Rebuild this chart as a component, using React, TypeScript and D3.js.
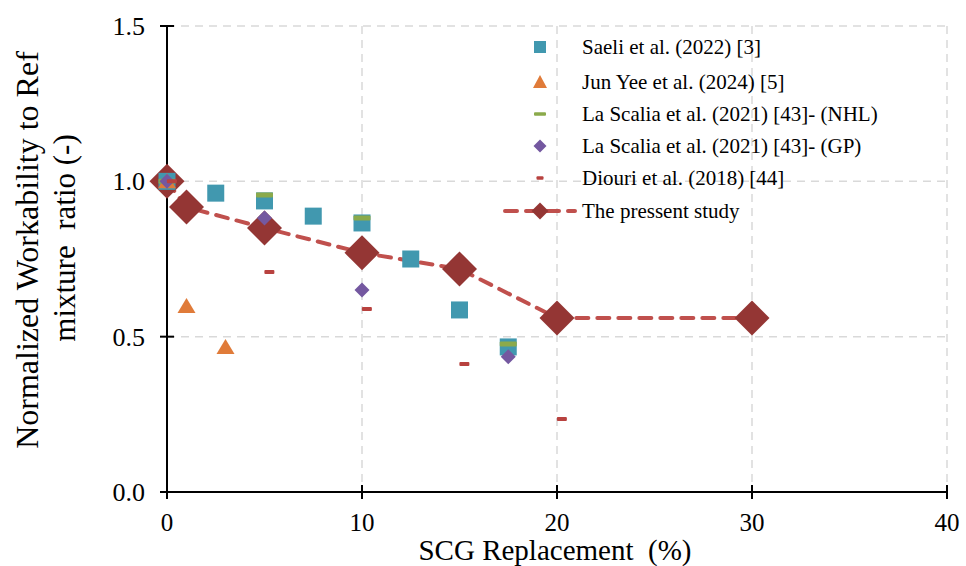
import React from "react";
import * as d3 from "d3";

const saeliX = [0, 2.5, 5, 7.5, 10, 12.5, 15, 17.5];
const saeliY = [1.0, 0.962, 0.937, 0.888, 0.866, 0.75, 0.586, 0.467];
const junYeeX = [0, 1, 3];
const junYeeY = [1.0, 0.599, 0.467];
const nhlX = [0, 5, 10, 17.5];
const nhlY = [1.0, 0.956, 0.882, 0.476];
const gpX = [0, 5, 10, 17.5];
const gpY = [1.0, 0.882, 0.65, 0.435];
const diouriX = [0.25, 5.25, 10.25, 15.25, 20.25];
const diouriY = [1.0, 0.708, 0.589, 0.412, 0.235];
const studyX = [0, 1, 5, 10, 15, 20, 30];
const studyY = [1.0, 0.917, 0.85, 0.77, 0.718, 0.56, 0.56];
const xTicks = [0, 10, 20, 30, 40];
const yTicks = [0, 0.5, 1.0, 1.5];
const legendLabels = [
  "Saeli et al. (2022) [3]",
  "Jun Yee et al. (2024) [5]",
  "La Scalia et al. (2021) [43]- (NHL)",
  "La Scalia et al. (2021) [43]- (GP)",
  "Diouri et al. (2018) [44]",
  "The pressent study",
];

const C_SQ = "#4198AF";
const C_TRI = "#E07B39";
const C_NHL = "#8BAA4B";
const C_GP = "#7458A0";
const C_DI = "#B8423F";
const C_ST = "#943634";
const C_LINE = "#C0504D";
const FONT = "'Liberation Serif', 'Times New Roman', serif";

export default function App() {
  const x = d3.scaleLinear().domain([0, 40]).range([167, 947]);
  const y = d3.scaleLinear().domain([0, 1.5]).range([492, 26]);
  const line = d3
    .line<number>()
    .x((_, i) => x(studyX[i]))
    .y((d) => y(d));

  const square = (cx: number, cy: number, s: number, key: any) => (
    <rect key={key} x={cx - s / 2} y={cy - s / 2} width={s} height={s} fill={C_SQ} />
  );
  const tri = (cx: number, cy: number, key: any) => (
    <path key={key} d={`M${cx},${cy - 8} L${cx + 9},${cy + 7} L${cx - 9},${cy + 7} Z`} fill={C_TRI} />
  );
  const diamond = (cx: number, cy: number, r: number, fill: string, key: any) => (
    <path key={key} d={`M${cx},${cy - r} L${cx + r},${cy} L${cx},${cy + r} L${cx - r},${cy} Z`} fill={fill} />
  );
  const dash = (cx: number, cy: number, w: number, h: number, fill: string, key: any) => (
    <rect key={key} x={cx - w / 2} y={cy - h / 2} width={w} height={h} rx={1} fill={fill} />
  );

  const legendY = [47, 82, 114, 146, 178, 211];
  const lx = 540;

  return (
    <svg width={966} height={566} style={{ display: "block", position: "absolute", left: 0, top: 0 }}>
      <rect width={966} height={566} fill="#fff" />
      {/* grid */}
      {xTicks.slice(1).map((t) => (
        <line key={"gx" + t} x1={x(t)} x2={x(t)} y1={y(1.5)} y2={y(0)} stroke="#D9D9D9" strokeWidth={1.5} strokeDasharray="8,6" />
      ))}
      {yTicks.slice(1).map((t) => (
        <line key={"gy" + t} x1={x(0)} x2={x(40)} y1={y(t)} y2={y(t)} stroke="#D9D9D9" strokeWidth={1.5} strokeDasharray="8,6" />
      ))}
      {/* axes */}
      <line x1={x(0)} x2={x(0)} y1={y(1.5)} y2={y(0)} stroke="#000" strokeWidth={2} />
      <line x1={x(0)} x2={x(40)} y1={y(0)} y2={y(0)} stroke="#000" strokeWidth={2} />
      {yTicks.map((t) => (
        <g key={"yt" + t}>
          <line x1={x(0) - 7} x2={x(0) + 7} y1={y(t)} y2={y(t)} stroke="#000" strokeWidth={2} />
          <text x={x(0) - 22} y={y(t)} dy="0.35em" textAnchor="end" fontFamily={FONT} fontSize={26}>
            {t.toFixed(1)}
          </text>
        </g>
      ))}
      {xTicks.map((t) => (
        <g key={"xt" + t}>
          <line x1={x(t)} x2={x(t)} y1={y(0) - 7} y2={y(0) + 7} stroke="#000" strokeWidth={2} />
          <text x={x(t)} y={531} textAnchor="middle" fontFamily={FONT} fontSize={25}>
            {t}
          </text>
        </g>
      ))}
      <text x={555} y={560} textAnchor="middle" fontFamily={FONT} fontSize={29} xmlSpace="preserve">
        SCG Replacement  (%)
      </text>
      <g transform="translate(0,250) rotate(-90)">
        <text x={0} y={27} dominantBaseline="central" textAnchor="middle" fontFamily={FONT} fontSize={32} xmlSpace="preserve">
          Normalized Workability to Ref
        </text>
        <text x={12} y={64} dominantBaseline="central" textAnchor="middle" fontFamily={FONT} fontSize={31} xmlSpace="preserve">
          mixture  ratio (-)
        </text>
      </g>

      {/* present study */}
      <path d={line(studyY) || ""} fill="none" stroke={C_LINE} strokeWidth={4} strokeDasharray="12,9" strokeLinecap="round" />
      {studyY.map((v, i) => diamond(x(studyX[i]), y(v), 17.5, C_ST, "st" + i))}
      {saeliY.map((v, i) => square(x(saeliX[i]), y(v), 17, "sq" + i))}
      {junYeeY.map((v, i) => tri(x(junYeeX[i]), y(v), "tr" + i))}
      {nhlY.map((v, i) => dash(x(nhlX[i]), y(v), 17, 5, C_NHL, "nh" + i))}
      {gpY.map((v, i) => diamond(x(gpX[i]), y(v), 7.5, C_GP, "gp" + i))}
      {diouriY.map((v, i) => dash(x(diouriX[i]), y(v), 10, 4, C_DI, "di" + i))}

      {/* legend */}
      {square(lx, legendY[0], 12, "l0")}
      <path d={`M${lx},${legendY[1] - 7} L${lx + 7},${legendY[1] + 6} L${lx - 7},${legendY[1] + 6} Z`} fill={C_TRI} />
      {dash(lx, legendY[2], 12, 3.5, C_NHL, "l2")}
      {diamond(lx, legendY[3], 6.5, C_GP, "l3")}
      {dash(lx, legendY[4], 7, 3.5, C_DI, "l4")}
      <line x1={505} x2={575} y1={legendY[5]} y2={legendY[5]} stroke={C_LINE} strokeWidth={4} strokeDasharray="12,9" strokeLinecap="round" />
      {diamond(lx, legendY[5], 8.5, C_ST, "l5")}
      {legendLabels.map((s, i) => (
        <text key={"lt" + i} x={582} y={legendY[i]} dy="0.35em" fontFamily={FONT} fontSize={21}>
          {s}
        </text>
      ))}
    </svg>
  );
}
